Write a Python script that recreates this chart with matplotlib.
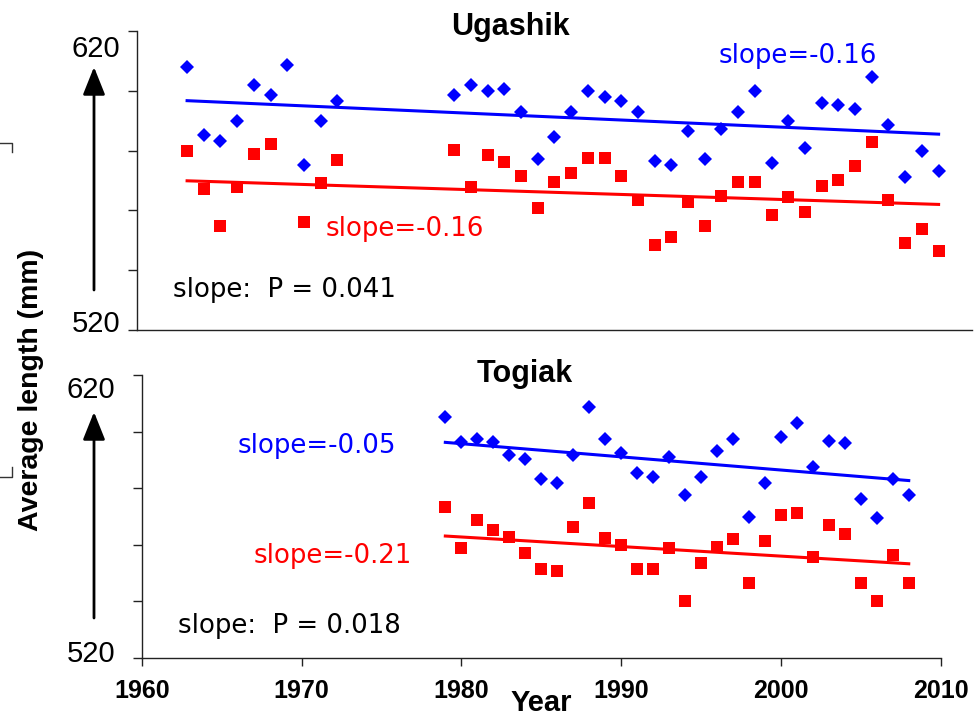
import matplotlib
matplotlib.use("Agg")
import numpy as np
from matplotlib import pyplot as plt
from matplotlib.lines import Line2D

W, H = 974, 716

# Ugashik (top panel)
ug_years = list(range(1963, 1973)) + list(range(1979, 2009))
ug_blue = [607.9, 585.2, 583.3, 590.0, 601.9, 598.6, 608.6, 575.3, 590.0, 596.7,
           598.6, 601.9, 599.9, 600.5, 592.8, 577.3, 584.6, 592.8, 599.9, 597.8,
           596.6, 592.8, 576.5, 575.3, 586.5, 577.3, 587.2, 592.8, 599.9, 576.0,
           590.0, 580.8, 595.9, 595.3, 593.9, 604.5, 588.7, 571.3, 580.0, 573.2]
ug_red = [580.0, 567.1, 554.9, 567.7, 578.9, 582.2, np.nan, 556.2, 569.1, 577.0,
          580.2, 567.7, 578.4, 576.3, 571.6, 560.9, 569.5, 572.4, 577.6, 577.6,
          571.6, 563.5, 548.4, 551.2, 562.9, 554.9, 564.9, 569.4, 569.4, 558.4,
          564.4, 559.6, 568.3, 570.3, 574.8, 582.9, 563.6, 549.0, 553.7, 546.5]
ug_trend_x = [1963, 2008]
ug_trend_blue = [596.7, 585.5]
ug_trend_red = [569.9, 562.0]

# Togiak (bottom panel)
tg_years = list(range(1979, 2009))
tg_blue = [605.0, 596.2, 597.5, 596.3, 591.7, 590.2, 583.4, 581.9, 591.7, 608.6,
           597.4, 592.4, 585.4, 584.0, 591.0, 577.5, 584.0, 593.1, 597.4, 570.0,
           581.9, 598.1, 603.0, 587.6, 596.8, 596.1, 576.3, 569.3, 583.3, 577.5]
tg_red = [573.3, 559.0, 568.9, 565.3, 562.7, 557.1, 551.4, 550.7, 566.2, 574.8,
          562.3, 559.9, 551.3, 551.3, 558.7, 540.2, 553.7, 559.2, 562.0, 546.4,
          561.3, 570.4, 571.2, 555.7, 566.9, 563.7, 546.5, 540.2, 556.3, 546.5]
tg_trend_x = [1979, 2008]
tg_trend_blue = [596.2, 582.7]
tg_trend_red = [563.1, 553.3]

year_ticks = [1960, 1970, 1980, 1990, 2000, 2010]
len_ticks = [520, 540, 560, 580, 600, 620]

BLUE = "#0000ff"
RED = "#ff0000"
ARIAL = ["Liberation Sans", "DejaVu Sans"]
VERD = ["DejaVu Sans"]


def fx(x):
    return x / W


def fy(y):
    return 1 - y / H


def rect(l, t, r, b):
    return [fx(l), fy(b), (r - l) / W, (b - t) / H]


fig = plt.figure(figsize=(W / 100, H / 100), dpi=100)

top = fig.add_axes(rect(137, 31, 972, 330))
bot = fig.add_axes(rect(141.7, 375, 940.7, 658))

for ax, yrs, b, r, tx, tb, tr in [
        (top, ug_years, ug_blue, ug_red, ug_trend_x, ug_trend_blue, ug_trend_red),
        (bot, tg_years, tg_blue, tg_red, tg_trend_x, tg_trend_blue, tg_trend_red)]:
    ax.plot(yrs, b, linestyle="none", marker="D", ms=6.9, mew=0, color=BLUE, zorder=3)
    ax.plot(yrs, r, linestyle="none", marker="s", ms=8.9, mew=0, color=RED, zorder=3)
    ax.plot(tx, tb, color=BLUE, lw=2.2, zorder=2)
    ax.plot(tx, tr, color=RED, lw=2.2, zorder=2)
    ax.set_xlim(1960, 2010)
    ax.set_ylim(520, 620)
    ax.set_yticks(len_ticks)
    ax.set_yticklabels([])
    ax.spines["top"].set_visible(False)
    ax.spines["right"].set_visible(False)
    for s in ("left", "bottom"):
        ax.spines[s].set_linewidth(1.0)
        ax.spines[s].set_color("#222222")
    ax.tick_params(axis="y", direction="out", length=6.5, width=1, color="#222222")
    ax.patch.set_alpha(0)

top.set_xticks([])
bot.set_xticks(year_ticks)
bot.set_xticklabels([str(t) for t in year_ticks])
bot.tick_params(axis="x", direction="out", length=6, width=1, color="#222222",
                pad=9, labelsize=18)
for lbl in bot.get_xticklabels():
    lbl.set_family(ARIAL)
    lbl.set_fontweight("bold")


def ftext(x, y, s, **kw):
    fig.text(fx(x), fy(y), s, transform=fig.transFigure, **kw)


# titles
ftext(510, 35, "Ugashik", ha="center", va="baseline", family=ARIAL, weight="bold", size=22)
ftext(525, 382, "Togiak", ha="center", va="baseline", family=ARIAL, weight="bold", size=22)

# slope annotations
ftext(798, 63, "slope=-0.16", ha="center", va="baseline", family=VERD, size=18.7, color=BLUE)
ftext(404.5, 236, "slope=-0.16", ha="center", va="baseline", family=VERD, size=18.7, color=RED)
ftext(284, 297, "slope:  P = 0.041", ha="center", va="baseline", family=VERD, size=18.7, color="black")
ftext(317, 453, "slope=-0.05", ha="center", va="baseline", family=VERD, size=18.7, color=BLUE)
ftext(332.5, 563, "slope=-0.21", ha="center", va="baseline", family=VERD, size=18.7, color=RED)
ftext(289.5, 633, "slope:  P = 0.018", ha="center", va="baseline", family=VERD, size=18.7, color="black")

# range labels and arrows beside each panel
for y620, y520, xc, tail, tip in [(57, 332, 96, 290, 67), (398, 662, 91, 618, 412)]:
    ftext(xc, y620, "620", ha="center", va="baseline", family=ARIAL, size=21)
    ftext(xc, y520, "520", ha="center", va="baseline", family=ARIAL, size=21)
    top.annotate("", xy=(94, H - tip), xytext=(94, H - tail),
                 xycoords="figure pixels", textcoords="figure pixels",
                 arrowprops=dict(arrowstyle="-|>,head_length=0.5,head_width=0.2",
                                 color="black", lw=2, mutation_scale=34,
                                 shrinkA=0, shrinkB=0))

# axis titles
ftext(31, 390, "Average length (mm)", ha="center", va="center", rotation=90,
      family=ARIAL, weight="bold", size=20.5)
ftext(541, 711, "Year", ha="center", va="baseline", family=ARIAL, weight="bold", size=21)

# small leftover marks at the left edge
for xs, ys in [([0, 12, 12], [143, 143, 152]), ([12, 12, 0], [467, 477, 477])]:
    fig.add_artist(Line2D([fx(v) for v in xs], [fy(v) for v in ys],
                          transform=fig.transFigure, color="#333333", lw=1))

fig.savefig("out.png", dpi=100)
